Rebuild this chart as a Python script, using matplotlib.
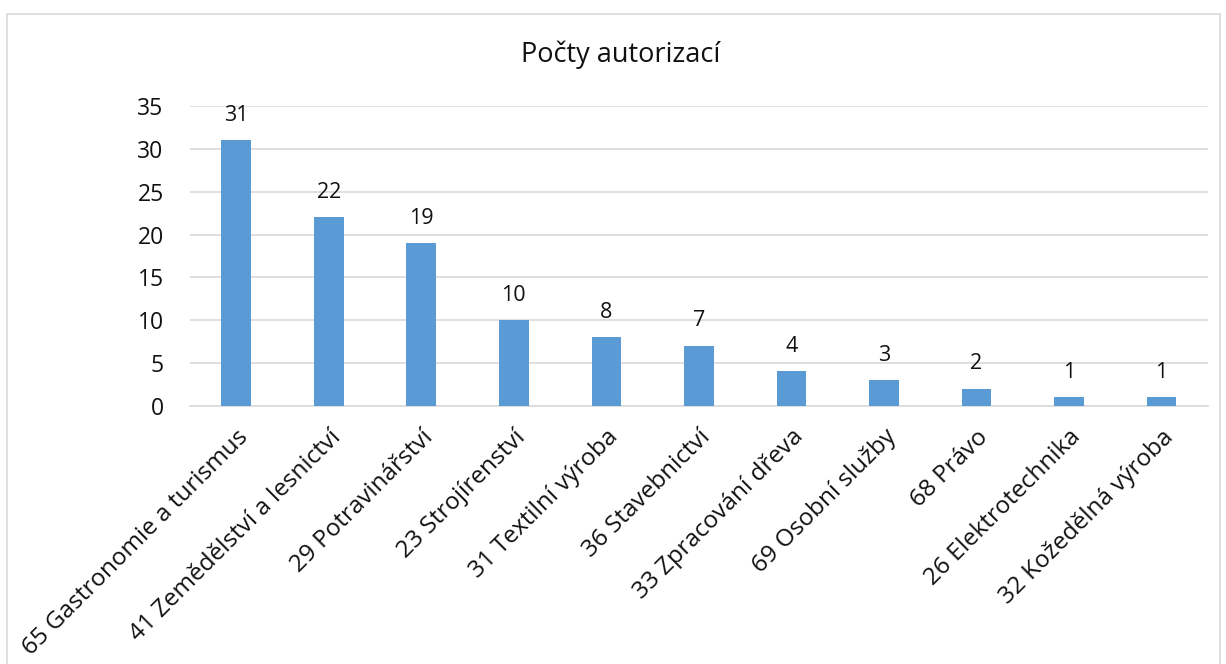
import matplotlib
matplotlib.use("Agg")
from matplotlib import pyplot as plt
from matplotlib.patches import Rectangle

categories = [
    "65 Gastronomie a turismus",
    "41 Zemědělství a lesnictví",
    "29 Potravinářství",
    "23 Strojírenství",
    "31 Textilní výroba",
    "36 Stavebnictví",
    "33 Zpracování dřeva",
    "69 Osobní služby",
    "68 Právo",
    "26 Elektrotechnika",
    "32 Kožedělná výroba",
]
counts = [31, 22, 19, 10, 8, 7, 4, 3, 2, 1, 1]
y_ticks = [0, 5, 10, 15, 20, 25, 30, 35]

plt.rcParams["font.family"] = ["Open Sans", "DejaVu Sans"]

fig = plt.figure(figsize=(12.26, 6.64), dpi=100)
ax = fig.add_axes([0.155, 0.389, 0.830, 0.451])

x = range(len(categories))
bars = ax.bar(x, counts, width=0.32, color="#5B9BD5", zorder=3)
for b, v in zip(bars, counts):
    ax.text(b.get_x() + b.get_width() / 2, v + 2.9, str(v),
            ha="center", va="center", fontsize=15.5, color="#111111")

ax.set_xlim(-0.5, len(categories) - 0.5)
ax.set_ylim(0, 35)
ax.set_yticks(y_ticks)
ax.set_xticks(list(x))
ax.set_xticklabels(categories, rotation=45, ha="right", rotation_mode="anchor",
                   fontsize=17.5, color="#111111")
ax.tick_params(axis="y", labelsize=16.5, colors="#111111", length=0, pad=19)
ax.tick_params(axis="x", length=0, pad=14)
ax.grid(axis="y", color="#d9d9d9", linewidth=1.2, zorder=0)
for s in ["top", "right", "left"]:
    ax.spines[s].set_visible(False)
ax.spines["bottom"].set_color("#d9d9d9")
ax.spines["bottom"].set_linewidth(1.2)

fig.text(0.506, 0.917, "Počty autorizací", ha="center", va="center",
         fontsize=19.5, color="#111111")

# chart border
fig.patches.append(Rectangle((7 / 1226, -0.01), 1213 / 1226, 1 - 14 / 664 + 0.01,
                             transform=fig.transFigure, fill=False,
                             edgecolor="#d9d9d9", linewidth=1.2))

plt.savefig("out.png", dpi=100)
